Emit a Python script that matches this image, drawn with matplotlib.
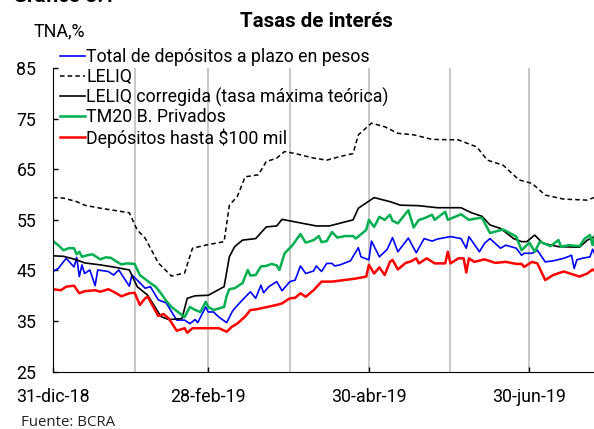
import numpy as np
import matplotlib
matplotlib.use("Agg")
import matplotlib.pyplot as plt
import matplotlib.dates as mdates

plt.rcParams['font.family'] = ['Roboto', 'DejaVu Sans']

# days counted from 31-dic-18
leliq_d = [0, 4, 9, 12, 18, 23, 29, 32, 35, 40, 45, 50, 53, 58, 65, 67, 70, 73, 78, 81,
           85, 88, 92, 99, 104, 109, 114, 116, 121, 126, 131, 137, 144, 154, 161, 165,
           171, 177, 182, 187, 194, 203, 207]
leliq_v = [59.4, 59.3, 58.6, 57.9, 57.3, 56.9, 56.4, 53.0, 51.4, 46.5, 43.9, 44.5, 49.4,
           50.0, 50.7, 57.9, 59.6, 63.5, 63.9, 66.5, 67.2, 68.5, 68.1, 67.2, 66.8, 67.5,
           68.1, 71.8, 74.1, 73.4, 72.1, 71.8, 70.9, 70.8, 69.4, 66.8, 65.8, 62.9, 62.2,
           59.9, 59.1, 58.9, 59.7]

corr_d = [0, 4, 9, 12, 18, 24, 29, 32, 36, 41, 44, 49, 51, 54, 59, 65, 67, 69, 72, 77,
          81, 85, 87, 92, 100, 105, 114, 116, 122, 128, 132, 139, 146, 155, 159, 163,
          166, 170, 175, 178, 180, 183, 186, 192, 200, 203, 207]
corr_v = [47.9, 47.8, 47.1, 46.5, 46.1, 45.6, 45.1, 41.8, 40.1, 35.9, 35.3, 35.5, 39.5,
          40.0, 40.1, 41.8, 47.7, 49.7, 51.0, 51.3, 53.6, 53.8, 55.1, 54.6, 53.8, 53.8,
          55.0, 57.3, 59.4, 58.6, 57.9, 57.8, 57.4, 57.4, 56.4, 55.7, 54.0, 53.3, 51.3,
          50.7, 50.7, 52.0, 50.4, 49.7, 49.6, 51.0, 52.0]

tm20_d = [0, 2, 4, 6, 8, 9, 10, 11, 13, 15, 18, 20, 22, 24, 26, 28, 31, 33, 37, 39, 41,
          43, 45, 47, 49, 50, 52, 54, 56, 58, 59, 61, 63, 65, 66, 67, 69, 72, 74, 75, 77,
          79, 81, 83, 85, 86, 88, 91, 94, 96, 99, 101, 102, 104, 106, 108, 111, 114, 115,
          119, 120, 122, 124, 126, 128, 129, 131, 135, 137, 139, 141, 144, 145, 149, 150,
          155, 158, 161, 163, 166, 171, 176, 178, 181, 183, 185, 189, 192, 193, 196, 200,
          202, 204, 205, 206, 207]
tm20_v = [50.8, 50.0, 49.0, 49.4, 49.4, 48.2, 48.7, 47.7, 48.0, 48.2, 47.2, 47.6, 47.5,
          46.8, 46.2, 46.4, 46.3, 44.1, 42.5, 41.8, 40.5, 39.0, 37.8, 37.0, 36.2, 35.8,
          37.8, 37.2, 36.8, 38.8, 37.8, 37.2, 37.5, 37.8, 40.0, 41.3, 41.5, 42.5, 45.1,
          44.0, 44.1, 45.8, 45.9, 46.3, 46.0, 45.1, 48.4, 50.0, 52.2, 50.5, 51.0, 51.8,
          50.6, 50.8, 52.6, 51.5, 51.8, 51.8, 51.3, 53.0, 55.0, 53.6, 55.6, 55.0, 56.0,
          54.8, 54.3, 56.9, 53.5, 55.0, 55.3, 56.0, 55.0, 56.6, 55.0, 56.1, 55.0, 55.3,
          55.4, 52.4, 53.1, 51.7, 49.0, 50.5, 48.7, 50.7, 49.8, 51.0, 49.7, 50.0, 49.8,
          51.3, 52.0, 50.0, 52.3, 51.7]

total_d = [0, 2, 5, 8, 9, 10, 11, 12, 14, 16, 17, 21, 23, 25, 29, 30, 32, 35, 37, 40, 43,
           47, 50, 52, 54, 55, 58, 59, 61, 63, 66, 68, 69, 72, 75, 77, 79, 80, 82, 85, 87,
           90, 92, 94, 96, 99, 100, 102, 104, 106, 107, 109, 113, 116, 117, 120, 121, 124,
           127, 129, 131, 135, 138, 141, 144, 146, 151, 155, 157, 158, 162, 164, 166, 170,
           172, 176, 178, 179, 182, 184, 187, 190, 194, 197, 198, 199, 201, 204, 205, 206,
           207]
total_v = [44.8, 45.4, 47.4, 45.7, 47.6, 43.8, 46.1, 44.4, 45.1, 42.0, 45.1, 44.8, 44.1,
           45.1, 41.9, 44.1, 43.1, 41.5, 41.8, 39.2, 38.6, 35.2, 35.2, 34.5, 35.3, 34.7,
           37.8, 36.8, 36.8, 35.8, 34.7, 36.8, 37.5, 39.2, 40.8, 39.5, 42.1, 40.6, 41.8,
           42.8, 41.0, 42.8, 43.1, 45.9, 44.4, 44.9, 45.9, 44.8, 46.4, 46.4, 45.9, 46.1,
           46.9, 49.5, 47.7, 47.1, 50.8, 47.7, 49.2, 51.5, 48.7, 51.4, 48.5, 51.3, 50.8,
           51.2, 51.7, 51.3, 49.4, 51.7, 48.7, 50.4, 51.3, 49.4, 50.0, 49.4, 48.0, 48.4,
           48.4, 49.0, 46.7, 46.9, 47.4, 48.0, 45.4, 47.1, 47.4, 47.7, 49.2, 48.0, 48.7]

dep100_d = [0, 3, 5, 8, 10, 12, 16, 18, 21, 23, 26, 29, 31, 33, 35, 36, 40, 42, 44, 47,
            50, 51, 53, 59, 63, 66, 68, 70, 73, 75, 77, 85, 87, 90, 92, 94, 96, 99, 102,
            106, 112, 115, 119, 120, 122, 124, 126, 128, 129, 131, 134, 136, 138, 139, 142,
            145, 149, 150, 151, 154, 156, 157, 158, 160, 164, 168, 172, 176, 178, 179, 182,
            184, 187, 190, 194, 197, 200, 203, 205, 207]
dep100_v = [41.3, 41.1, 41.8, 42.0, 40.5, 40.9, 41.1, 40.8, 41.3, 40.8, 39.9, 40.5, 40.6,
            38.2, 39.5, 39.8, 36.0, 36.4, 35.5, 33.1, 33.6, 32.7, 33.6, 33.6, 33.6, 32.9,
            33.9, 34.5, 35.9, 37.2, 37.3, 38.2, 38.5, 39.5, 39.6, 40.5, 39.8, 41.1, 42.8,
            42.8, 43.2, 43.4, 43.8, 46.1, 44.4, 45.6, 44.1, 46.7, 47.1, 45.2, 46.5, 46.8,
            47.4, 46.4, 47.4, 46.4, 46.4, 48.7, 46.4, 47.4, 47.4, 44.6, 47.4, 46.7, 47.2,
            46.5, 46.7, 46.3, 46.3, 45.7, 46.7, 46.4, 43.1, 44.1, 44.8, 44.3, 43.8, 44.4,
            45.2, 44.4]

series_labels = ['Total de depósitos a plazo en pesos', 'LELIQ',
                 'LELIQ corregida (tasa máxima teórica)', 'TM20 B. Privados',
                 'Depósitos hasta $100 mil']
tick_dates = ['2018-12-31', '2019-02-28', '2019-04-30', '2019-06-30']
tick_labels = ['31-dic-18', '28-feb-19', '30-abr-19', '30-jun-19']
month_ends = ['2019-01-31', '2019-02-28', '2019-03-31', '2019-04-30', '2019-05-31', '2019-06-30']

start = np.datetime64('2018-12-31')


def to_dates(days):
    return start + np.array(days).astype('timedelta64[D]')


fig = plt.figure(figsize=(5.94, 4.29), dpi=100)
ax = fig.add_axes([0.0892, 0.1335, 0.92, 0.708])

for d in month_ends:
    ax.axvline(np.datetime64(d), color='#bfbfbf', lw=1.2, zorder=0)

l1, = ax.plot(to_dates(total_d), total_v, color='#0000ff', lw=1.2)
l2, = ax.plot(to_dates(leliq_d), leliq_v, color='black', lw=1.1, ls=(0, (3, 2)))
l3, = ax.plot(to_dates(corr_d), corr_v, color='black', lw=1.2)
l4, = ax.plot(to_dates(tm20_d), tm20_v, color='#00b050', lw=1.8)
l5, = ax.plot(to_dates(dep100_d), dep100_v, color='#ff0000', lw=1.8)

x0 = mdates.date2num(start)
ax.set_xlim(x0, x0 + 207.6)
ax.set_ylim(25, 85)
ax.set_yticks([25, 35, 45, 55, 65, 75, 85])
ax.set_xticks([np.datetime64(d) for d in tick_dates])
ax.set_xticklabels(tick_labels)
ax.tick_params(axis='both', direction='in', length=3.5, labelsize=12.8, width=1)
ax.tick_params(axis='x', pad=12)
ax.tick_params(axis='y', pad=12)
ax.spines['top'].set_visible(False)
ax.spines['right'].set_visible(False)

fig.legend([l1, l2, l3, l4, l5], series_labels, loc='upper left',
           bbox_to_anchor=(0.101, 0.887), frameon=False, fontsize=12.8,
           handlelength=1.41, handletextpad=0.08, labelspacing=0.09,
           borderaxespad=0, borderpad=0)

fig.text(0.533, 0.949, 'Tasas de interés', ha='center', va='center',
         fontsize=14.8, fontweight='bold')
fig.text(0.022, 0.985, 'Gráfico 3.1', ha='left', va='bottom',
         fontsize=14.8, fontweight='bold')
fig.text(0.056, 0.928, 'TNA,%', ha='left', va='center', fontsize=12.8)
fig.text(0.036, 0.014, 'Fuente: BCRA', ha='left', va='center', fontsize=10.8,
         family=['Open Sans', 'DejaVu Sans'], color='#222222')

fig.savefig('out.png', dpi=100)
